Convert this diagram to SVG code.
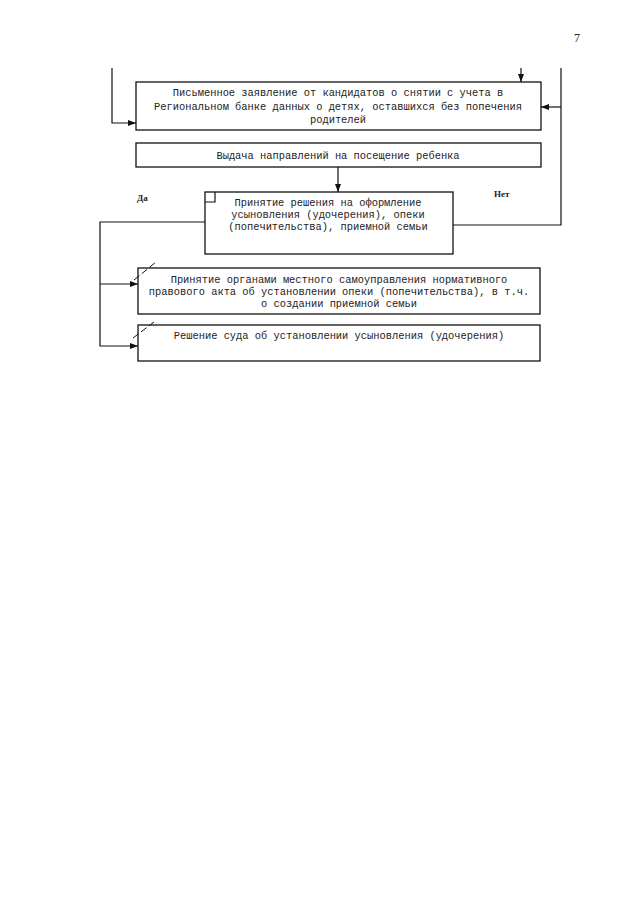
<svg xmlns="http://www.w3.org/2000/svg" width="640" height="905" viewBox="0 0 640 905">
<style>
.box{fill:none;stroke:#111;stroke-width:1.3}
.ln{fill:none;stroke:#111;stroke-width:1.2}
.t{font-family:"Liberation Mono","DejaVu Sans Mono",monospace;font-size:10.4px;fill:#222;text-anchor:middle}
.lbl{font-family:"Liberation Serif","DejaVu Serif",serif;font-size:9px;font-weight:bold;fill:#222}
.slash{stroke:#111;stroke-width:1;stroke-dasharray:7 3}
</style>
<defs>
<marker id="ah" viewBox="0 0 8 6" refX="8" refY="3" markerWidth="8" markerHeight="6" markerUnits="userSpaceOnUse" orient="auto">
<path d="M0,0 L8,3 L0,6 Z" fill="#111"/>
</marker>
</defs>
<rect width="640" height="905" fill="#fff"/>
<text x="577" y="42" style="font-family:'Liberation Serif',serif;font-size:12px;fill:#222;text-anchor:middle">7</text>

<g id="connectors">
<path class="ln" d="M112,68 V123 H136" marker-end="url(#ah)"/>
<path class="ln" d="M521,68 V82" marker-end="url(#ah)"/>
<path class="ln" d="M561,68 V225 H453"/>
<path class="ln" d="M561,107 H541" marker-end="url(#ah)"/>
<path class="ln" d="M338,167 V192" marker-end="url(#ah)"/>
<path class="ln" d="M205,222 H100 V346 H138" marker-end="url(#ah)"/>
<path class="ln" d="M100,284 H138" marker-end="url(#ah)"/>
</g>

<g id="n1">
<rect class="box" x="136" y="82" width="405" height="48"/>
<text class="t" x="338" y="96">Письменное заявление от кандидатов о снятии с учета в</text>
<text class="t" x="338" y="110">Региональном банке данных о детях, оставшихся без попечения</text>
<text class="t" x="338" y="123">родителей</text>
</g>

<g id="n2">
<rect class="box" x="136" y="143" width="405" height="24"/>
<text class="t" x="338" y="159">Выдача направлений на посещение ребенка</text>
</g>

<g id="n3">
<rect class="box" x="205" y="192" width="248" height="62"/>
<path class="ln" d="M205,202 H215 V192"/>
<text class="t" x="328" y="206">Принятие решения на оформление</text>
<text class="t" x="328" y="218">усыновления (удочерения), опеки</text>
<text class="t" x="328" y="230">(попечительства), приемной семьи</text>
</g>

<text class="lbl" x="137" y="201">Да</text>
<text class="lbl" x="494" y="197">Нет</text>

<g id="n4">
<rect class="box" x="138" y="268" width="402" height="46"/>
<line class="slash" x1="134" y1="280" x2="156" y2="262"/>
<text class="t" x="339" y="283">Принятие органами местного самоуправления нормативного</text>
<text class="t" x="339" y="295">правового акта об установлении опеки (попечительства), в т.ч.</text>
<text class="t" x="339" y="307">о создании приемной семьи</text>
</g>

<g id="n5">
<rect class="box" x="138" y="325" width="402" height="36"/>
<line class="slash" x1="133" y1="338" x2="154" y2="322"/>
<text class="t" x="339" y="339">Решение суда об установлении усыновления (удочерения)</text>
</g>
</svg>
